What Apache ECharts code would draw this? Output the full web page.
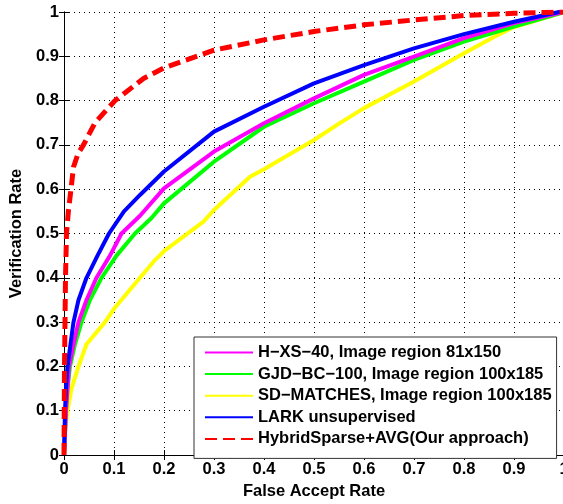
<!DOCTYPE html>
<html>
<head>
<meta charset="utf-8">
<script src="https://cdn.jsdelivr.net/npm/echarts@6/dist/echarts.min.js"></script>
<style>
    html, body { margin: 0; padding: 0; background: #fff; }
    #main { width: 563px; height: 504px; }
</style>
</head>
<body>
<div id="main"></div>
<script>
// 曲线数据: [False Accept Rate, Verification Rate]
var hxs40 = [[0, 0], [0.004, 0.1], [0.007, 0.15], [0.010, 0.2], [0.019, 0.25], [0.029, 0.3], [0.045, 0.35],
    [0.065, 0.4], [0.092, 0.45], [0.115, 0.5], [0.152, 0.54], [0.2, 0.602], [0.3, 0.685], [0.4, 0.749],
    [0.5, 0.805], [0.6, 0.858], [0.7, 0.899], [0.8, 0.941], [0.9, 0.975], [1, 1]];
var gjdBc100 = [[0, 0], [0.004, 0.1], [0.007, 0.15], [0.012, 0.2], [0.022, 0.25], [0.035, 0.3], [0.052, 0.35],
    [0.075, 0.4], [0.105, 0.45], [0.142, 0.5], [0.175, 0.535], [0.2, 0.568], [0.3, 0.662], [0.4, 0.741],
    [0.5, 0.794], [0.6, 0.843], [0.7, 0.892], [0.8, 0.933], [0.9, 0.967], [1, 1]];
var sdMatches = [[0, 0], [0.002, 0.05], [0.007, 0.1], [0.015, 0.15], [0.029, 0.2], [0.045, 0.25], [0.082, 0.3],
    [0.1, 0.33], [0.152, 0.4], [0.182, 0.44], [0.2, 0.46], [0.279, 0.527], [0.3, 0.553], [0.372, 0.628],
    [0.4, 0.645], [0.5, 0.711], [0.55, 0.748], [0.6, 0.783], [0.7, 0.843], [0.8, 0.907], [0.859, 0.943],
    [0.9, 0.966], [1, 1]];
var lark = [[0, 0], [0.002, 0.1], [0.004, 0.15], [0.007, 0.2], [0.013, 0.25], [0.019, 0.3], [0.029, 0.35],
    [0.045, 0.4], [0.067, 0.45], [0.09, 0.5], [0.12, 0.55], [0.152, 0.587], [0.2, 0.64], [0.3, 0.73],
    [0.4, 0.786], [0.5, 0.839], [0.6, 0.88], [0.7, 0.918], [0.8, 0.95], [0.9, 0.978], [0.99, 1], [1, 1]];
var hybridSparse = [[0, 0], [0.001, 0.2], [0.003, 0.4], [0.005, 0.5], [0.009, 0.553], [0.014, 0.6],
    [0.019, 0.65], [0.028, 0.68], [0.039, 0.7], [0.062, 0.75], [0.102, 0.8], [0.159, 0.85], [0.2, 0.874],
    [0.3, 0.914], [0.4, 0.937], [0.5, 0.956], [0.6, 0.971], [0.7, 0.982], [0.8, 0.992], [0.9, 0.997], [1, 1]];

var legendNames = [
    'H−XS−40, Image region 81x150',
    'GJD−BC−100, Image region 100x185',
    'SD−MATCHES, Image region 100x185',
    'LARK unsupervised',
    'HybridSparse+AVG(Our approach)'
];

var font = 'Liberation Sans, Arial, Helvetica, sans-serif';
var fontSize = 16.5;
var myChart = echarts.init(document.getElementById('main'));

function line(name, data, color, z, dashed) {
    return {
        name: name,
        type: 'line',
        data: data,
        symbol: 'none',
        z: z,
        lineStyle: { color: color, width: dashed ? 5 : 4, type: dashed ? [12, 6] : 'solid' },
        itemStyle: { color: color }
    };
}

var boxAxis = {
    min: 0, max: 1, interval: 0.1,
    axisLine: { show: true, lineStyle: { color: '#000', width: 1 } },
    axisTick: { show: true, inside: true, length: 5, lineStyle: { color: '#000' } },
    axisLabel: { show: false },
    splitLine: { show: false }
};

var option = {
    backgroundColor: '#fff',
    animation: false,
    grid: { left: 64, top: 12, width: 500, height: 443, outerBoundsMode: 'none', containLabel: false },
    legend: {
        orient: 'vertical',
        left: 194, top: 337,
        padding: [7, 5, 11, 10],
        itemWidth: 48, itemHeight: 16, itemGap: 4.6, itemTextGap: 7,
        backgroundColor: '#fff',
        borderColor: '#333', borderWidth: 1,
        itemStyle: { opacity: 0 },
        textStyle: { fontFamily: font, fontWeight: 'bold', fontSize: fontSize, lineHeight: 16, color: '#000' },
        data: legendNames
    },
    xAxis: [{
        type: 'value', min: 0, max: 1, interval: 0.1,
        name: 'False Accept Rate', nameLocation: 'middle', nameGap: 27,
        nameTextStyle: { fontFamily: font, fontWeight: 'bold', fontSize: fontSize, color: '#000' },
        axisLine: { lineStyle: { color: '#000', width: 1 } },
        axisTick: { inside: true, length: 5, lineStyle: { color: '#000' } },
        axisLabel: { margin: 6, fontFamily: font, fontWeight: 'bold', fontSize: fontSize, color: '#000' },
        splitLine: { show: true, lineStyle: { color: '#000', type: [1, 4] } }
    }, Object.assign({ type: 'value', position: 'top' }, boxAxis)],
    yAxis: [{
        type: 'value', min: 0, max: 1, interval: 0.1,
        name: 'Verification Rate', nameLocation: 'middle', nameGap: 38,
        nameTextStyle: { fontFamily: font, fontWeight: 'bold', fontSize: fontSize, color: '#000' },
        axisLine: { show: true, lineStyle: { color: '#000', width: 1 } },
        axisTick: { show: true, inside: true, length: 5, lineStyle: { color: '#000' } },
        axisLabel: { margin: 5, fontFamily: font, fontWeight: 'bold', fontSize: fontSize, color: '#000' },
        splitLine: { show: true, lineStyle: { color: '#000', type: [1, 4] } }
    }, Object.assign({ type: 'value', position: 'right' }, boxAxis)],
    //绘制顺序: 黄色在最下面, 红色虚线在最上面
    series: [
        line(legendNames[2], sdMatches, '#ffff00', 2),
        line(legendNames[1], gjdBc100, '#00ff00', 3),
        line(legendNames[0], hxs40, '#ff00ff', 4),
        line(legendNames[3], lark, '#0000ff', 5),
        line(legendNames[4], hybridSparse, '#ff0000', 6, true)
    ]
};

myChart.setOption(option);
</script>
</body>
</html>
